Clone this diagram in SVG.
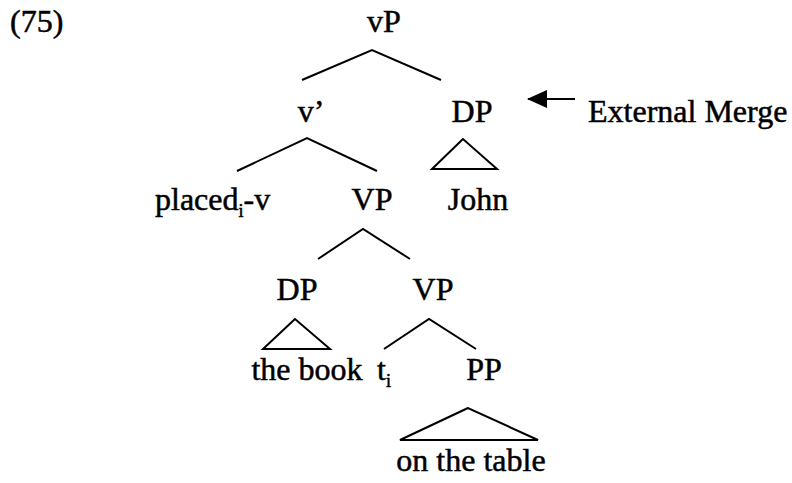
<svg xmlns="http://www.w3.org/2000/svg" width="792" height="483" viewBox="0 0 792 483">
<style>
text{font-family:"Liberation Serif","Times New Roman",serif;font-size:32px;fill:#000;stroke:#000;stroke-width:0.5}
.m{text-anchor:middle}
.sub{font-size:18px}
line,polyline,polygon{stroke:#000;stroke-width:2;fill:none}
</style>
<defs>
<marker id="ah" viewBox="0 0 20 18" refX="19" refY="9" markerWidth="20" markerHeight="18" orient="auto" markerUnits="userSpaceOnUse">
<path d="M0,0 L20,9 L0,18 Z" fill="#000"/>
</marker>
</defs>
<rect width="792" height="483" fill="#fff"/>
<text id="label" x="10" y="32">(75)</text>
<g id="n-vP"><text class="m" x="384" y="32">vP</text></g>
<g id="n-v1"><text class="m" x="311" y="122">v’</text></g>
<g id="n-DP1"><text class="m" x="472" y="122">DP</text></g>
<g id="n-John"><polygon points="463,139 432,169 497,169"/><text class="m" x="478" y="210">John</text></g>
<g id="n-placed"><text x="155" y="210">placed<tspan class="sub" dy="7">i</tspan><tspan dy="-7">-v</tspan></text></g>
<g id="n-VP1"><text class="m" x="372" y="210">VP</text></g>
<g id="n-DP2"><text class="m" x="297" y="300">DP</text></g>
<g id="n-VP2"><text class="m" x="433" y="300">VP</text></g>
<g id="n-book"><polygon points="295,319 263,349 330,349"/><text class="m" x="307" y="380">the book</text></g>
<g id="n-t"><text x="377" y="380">t<tspan class="sub" dy="7">i</tspan></text></g>
<g id="n-PP"><text class="m" x="484" y="380">PP</text></g>
<g id="n-table"><polygon points="468,408 400,440 538,440"/><text class="m" x="471" y="471">on the table</text></g>
<g id="connectors">
<polyline points="302,80 372,50 441,80"/>
<polyline points="237,171 307,138 377,171"/>
<polyline points="318,259 363,229 410,259"/>
<polyline points="384,349 429,319 476,349"/>
<line x1="575" y1="99" x2="528" y2="99" marker-end="url(#ah)"/>
</g>
<g id="n-ext"><text x="588" y="122">External Merge</text></g>
</svg>
